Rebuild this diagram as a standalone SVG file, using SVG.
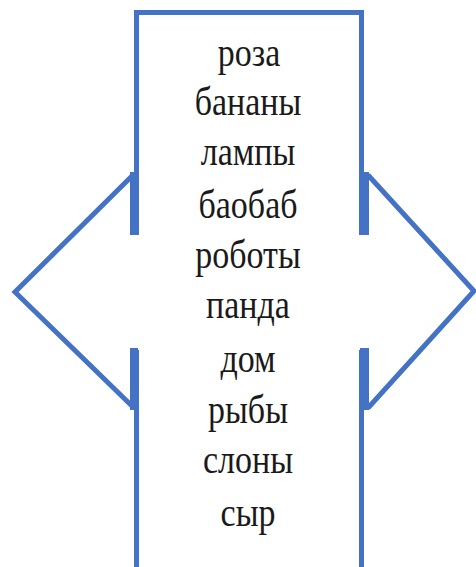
<svg xmlns="http://www.w3.org/2000/svg" width="476" height="567" viewBox="0 0 476 567">
<style>
.ln{fill:none;stroke:#4472C4;stroke-width:5;stroke-linejoin:miter}
.bar{fill:#4472C4}
.t{font-family:"Liberation Serif","Times New Roman",serif;font-size:34px;fill:#1a1a1a;text-anchor:middle}
</style>
<rect width="476" height="567" fill="#ffffff"/>
<g id="box">
<path class="ln" d="M136.5,567 V350 M136.5,235 V12.5 H361.5 V235 M361.5,350 V567"/>
</g>
<g id="words">
<text class="t" transform="translate(249,66) scale(1,1.2)">роза</text>
<text class="t" transform="translate(248,115) scale(1,1.2)">бананы</text>
<text class="t" transform="translate(248,165) scale(1,1.2)">лампы</text>
<text class="t" transform="translate(248,218) scale(1,1.2)">баобаб</text>
<text class="t" transform="translate(248,268) scale(1,1.2)">роботы</text>
<text class="t" transform="translate(248,318) scale(1,1.2)">панда</text>
<text class="t" transform="translate(248,372) scale(1,1.2)">дом</text>
<text class="t" transform="translate(248,423) scale(1,1.2)">рыбы</text>
<text class="t" transform="translate(248,473) scale(1,1.2)">слоны</text>
<text class="t" transform="translate(248,526) scale(1,1.2)">сыр</text>
</g>
<g id="connectors">
<g id="left-arrow">
<rect class="bar" x="130" y="172" width="8" height="63"/>
<rect class="bar" x="130" y="348" width="8" height="62"/>
<path class="ln" stroke-width="4.5" d="M133,175 L15,292 L133,407"/>
</g>
<g id="right-arrow">
<rect class="bar" x="360" y="172" width="9" height="63"/>
<rect class="bar" x="360" y="348" width="9" height="62"/>
<path class="ln" stroke-width="4.5" d="M368,175 L474,291 L368,408"/>
</g>
</g>
</svg>
